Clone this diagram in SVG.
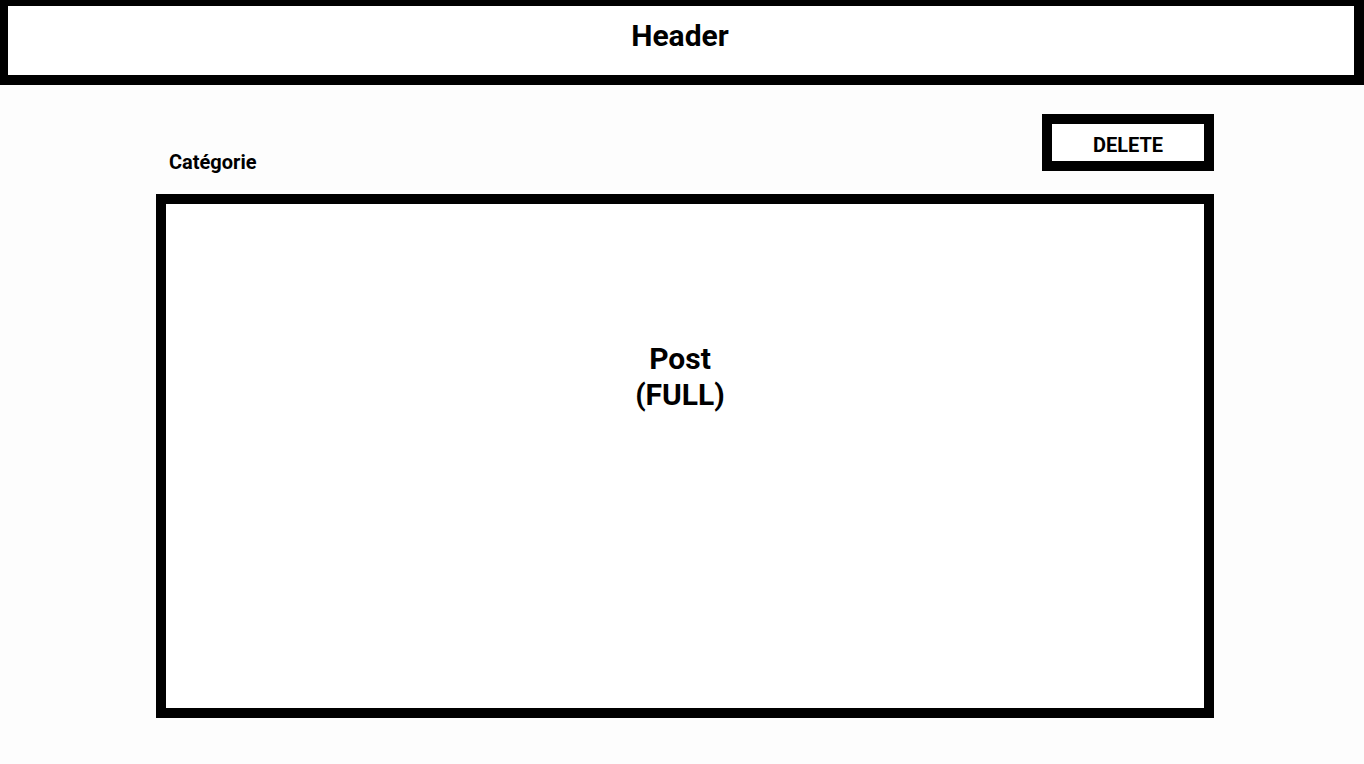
<svg xmlns="http://www.w3.org/2000/svg" width="1364" height="764" viewBox="0 0 1364 764">
<style>
.t{font-family:Roboto,"Liberation Sans",sans-serif;font-weight:bold;fill:#000;text-anchor:middle}
.box{fill:#fff;stroke:#000;stroke-width:10}
</style>
<rect width="1364" height="764" fill="#fdfdfd"/>
<g id="header">
<path d="M0 0H1364V85H0Z M8 6H1354V75H8Z" fill="#000" fill-rule="evenodd"/>
<rect x="8" y="6" width="1346" height="69" fill="#fff"/>
<text class="t" x="680" y="46" font-size="30">Header</text>
</g>
<g id="categorie">
<text class="t" x="169" y="169" font-size="20" style="text-anchor:start">Catégorie</text>
</g>
<g id="delete">
<rect class="box" x="1047" y="119" width="162" height="47"/>
<text class="t" x="1128" y="152" font-size="20">DELETE</text>
</g>
<g id="post">
<rect class="box" x="161" y="199" width="1048" height="514"/>
<text class="t" x="680" y="369" font-size="30">Post</text>
<text class="t" x="680" y="405" font-size="30">(FULL)</text>
</g>
<g id="connectors"/>
</svg>
